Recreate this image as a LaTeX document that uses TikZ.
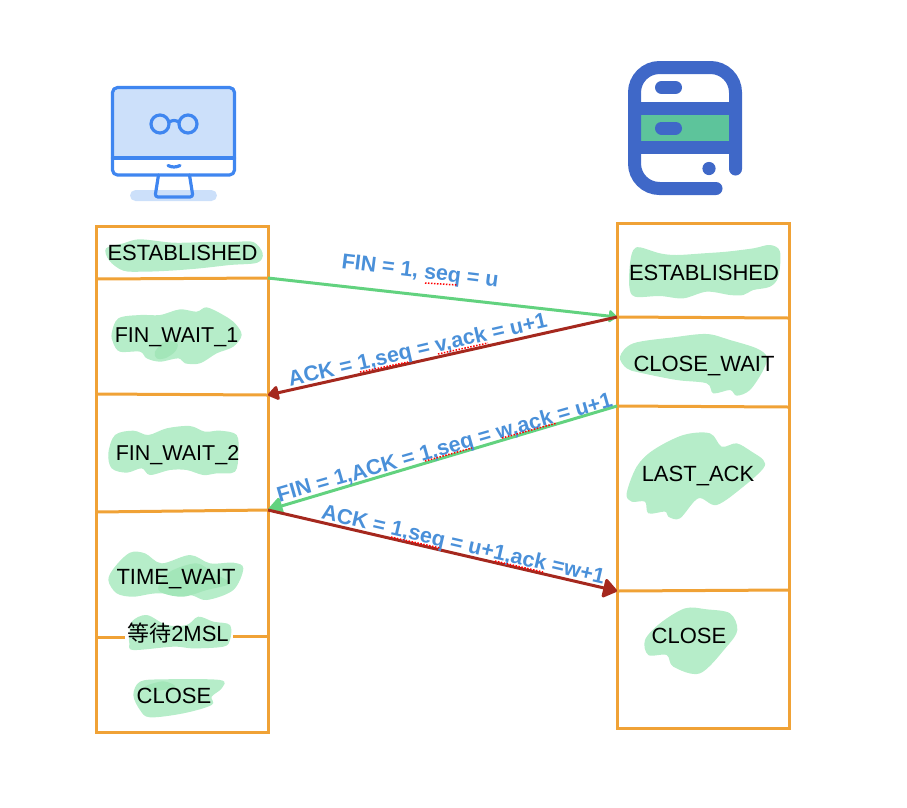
\documentclass[tikz,border=0pt]{standalone}
\usepackage{fontspec}
\setmainfont{Liberation Sans}
\newfontfamily\cjk{Noto Sans CJK SC}
\usetikzlibrary{arrows.meta}

\definecolor{boxorange}{HTML}{F0A236}
\definecolor{blobgreen}{HTML}{B6EDC9}
\definecolor{blobdark}{HTML}{A3E6B9}
\definecolor{arrowgreen}{HTML}{62D27F}
\definecolor{arrowred}{HTML}{A5281E}
\definecolor{labelblue}{HTML}{4A90D9}
\definecolor{pcblue}{HTML}{3F86F0}
\definecolor{pcfill}{HTML}{CCE0FA}
\definecolor{srvblue}{HTML}{3F68C8}
\definecolor{srvgreen}{HTML}{5DC49B}

\tikzset{
  box/.style={draw=boxorange,line width=3pt},
  state/.style={font=\fontsize{22}{26}\selectfont,text height=15.5pt,text depth=0pt,inner sep=0pt},
  finstate/.style={state,font=\fontsize{21.5}{26}\selectfont},
  msg/.style={font=\fontsize{21.5}{26}\selectfont\bfseries,text=labelblue,inner sep=0pt},
  finline/.style={draw=arrowgreen,line width=3pt},
  ackline/.style={draw=arrowred,line width=3pt},
  squiggle/.style={draw=red,line width=1.5pt,dash pattern=on 1.5pt off 1.5pt},
  pcline/.style={draw=pcblue,line width=3.2pt,line cap=round,line join=round},
  srvline/.style={draw=srvblue,line width=13pt,line cap=round}
}

% coordinates in the blob lists are relative to (#1,#2), at three times the size
\newcommand{\blob}[4][blobgreen]{\fill[#1,shift={(#2,#3)},scale=1/3] plot[smooth cycle,tension=0.55] coordinates {#4};}

\begin{document}
\begin{tikzpicture}[x=1pt,y=-1pt]

\useasboundingbox (0,0) rectangle (907,807);

% computer
\fill[pcfill,rounded corners=5.5pt] (130,190) rectangle (217,201);
\fill[pcfill] (113,88) rectangle (234,158);
\draw[pcline,rounded corners=5pt] (112.5,87.5) rectangle (234.5,175);
\draw[pcline] (112.5,158) -- (234.5,158);
\draw[pcline] (160,124) circle (9);
\draw[pcline] (188,124) circle (9);
\draw[pcline] (169,122) .. controls (173,120) and (175,120) .. (179,122);
\draw[pcline] (168,165.5) .. controls (172,167.5) and (176,167.5) .. (180,165.5);
\draw[pcline,rounded corners=3pt] (158.5,175) -- (155,197) -- (193,197) -- (189.5,175);

% server
\fill[srvgreen] (641,115) rectangle (729,141);
\draw[srvline,rounded corners=25pt] (716,188.5) -- (634.5,188.5) -- (634.5,67.5) -- (735.5,67.5) -- (735.5,169);
\draw[srvline,line cap=butt] (634.5,108.5) -- (735.5,108.5);
\draw[srvline,line cap=butt] (634.5,147.5) -- (735.5,147.5);
\draw[srvline] (661.5,87.5) -- (675.5,87.5);
\draw[srvline] (661.5,128) -- (675.5,128);
\fill[srvblue] (709,168.5) circle (6.6);

% highlighter
\blob{90}{220}{(48,85) (100,70) (150,58) (250,68) (350,66) (430,66) (490,66) (518,100) (502,128) (420,135) (330,145) (240,152) (160,155) (100,152) (58,122)}
\blob{90}{220}{(65,340) (85,295) (150,285) (210,285) (270,268) (320,275) (350,262) (400,285) (435,310) (455,345) (430,380) (380,400) (330,430) (285,430) (265,415) (210,425) (170,415) (150,395) (90,395) (70,370)}
\blob[blobdark]{90}{220}{(195,395) (225,365) (262,370) (255,395) (225,415) (200,415)}
\blob{90}{390}{(55,190) (75,135) (130,122) (175,135) (230,115) (300,108) (345,125) (390,122) (440,135) (445,190) (435,245) (380,250) (340,255) (290,240) (240,240) (180,255) (155,235) (110,248) (65,235)}
\blob{90}{540}{(55,120) (75,80) (120,38) (165,40) (215,70) (300,45) (360,70) (430,68) (460,85) (430,150) (350,180) (300,165) (200,160) (130,170) (80,160)}
\blob[blobdark]{90}{540}{(205,140) (240,95) (320,70) (370,100) (420,130) (350,150) (280,170) (220,160)}
\blob{90}{540}{(118,290) (125,245) (170,225) (230,255) (290,255) (325,230) (370,245) (420,255) (420,300) (400,320) (310,325) (250,320) (130,330) (118,310)}
\blob{90}{540}{(130,465) (150,425) (220,418) (390,420) (395,445) (365,470) (365,495) (280,520) (180,532) (150,510)}
\blob[blobdark]{90}{540}{(165,440) (220,424) (255,440) (200,452)}
\blob{610}{220}{(60,130) (70,90) (90,82) (150,100) (200,105) (280,100) (350,95) (430,85) (480,75) (510,95) (505,170) (480,200) (430,210) (400,225) (360,225) (290,215) (220,235) (150,228) (75,230) (58,200)}
\blob{610}{220}{(30,410) (70,370) (190,352) (290,342) (360,360) (440,385) (470,410) (460,450) (420,510) (380,527) (360,510) (310,520) (290,490) (200,480) (90,458) (50,445)}
\blob{610}{410}{(50,250) (80,170) (130,120) (220,75) (300,70) (335,110) (380,100) (425,125) (460,150) (460,175) (400,230) (320,285) (265,265) (210,325) (175,320) (165,305) (115,310) (105,275) (65,275)}
\blob{610}{410}{(105,690) (150,640) (225,595) (290,598) (360,610) (382,660) (350,710) (270,790) (190,770) (170,735) (115,735)}

% left column
\coordinate (L1) at (268,278);
\coordinate (L2) at (268,395);
\coordinate (L3) at (268,510);

\draw[box] (96,226) rectangle (268,732);
\draw[box] (96,279) -- (L1);
\draw[box] (96,394) -- (L2);
\draw[box] (96,512) -- (L3);
\draw[box] (96,637) -- (125,637);
\draw[box] (233,636) -- (268,636);

% right column
\coordinate (R1) at (617,317);
\coordinate (R2) at (617,406);
\coordinate (R3) at (617,591);

\draw[box] (617,223) rectangle (789,728);
\draw[box] (R1) -- (789,318);
\draw[box] (R2) -- (789,407);
\draw[box] (R3) -- (789,590);

% messages
\draw[finline,-{Triangle[round,length=9pt,width=14pt]}] (L1) -- (R1);
\draw[ackline,-{Triangle[round,length=12pt,width=16pt]}] (R1) -- (L2);
\draw[finline,-{Triangle[round,length=16pt,width=19pt]}] (R2) -- (L3);
\draw[ackline,-{Triangle[round,length=15pt,width=21pt]}] (L3) -- (R3);

\node[msg,rotate=-7] (m1) at (420,272.5) {FIN = 1, seq = u};
\node[msg,rotate=13] (m2) at (418,351) {ACK = 1,seq = v,ack = u+1};
\node[msg,rotate=16] (m3) at (445,449) {FIN = 1,ACK = 1,seq = w,ack = u+1};
\node[msg,rotate=-13] (m4) at (463,546) {ACK = 1,seq = u+1,ack =w+1};

\draw[squiggle] (425,283) -- (457,285);
\draw[squiggle] (360,372) -- (408,362);
\draw[squiggle] (438,354) -- (488,343);
\draw[squiggle] (425,461) -- (472,448);
\draw[squiggle] (502,438) -- (557,423);
\draw[squiggle] (391,537) -- (440,548);
\draw[squiggle] (495,561) -- (543,572);

% states
\node[state] (est1) at (182.5,253) {ESTABLISHED};
\node[finstate] (fin1) at (176.5,335) {FIN\_WAIT\_1};
\node[finstate] (fin2) at (177.5,453) {FIN\_WAIT\_2};
\node[state] (tw) at (176,577) {TIME\_WAIT};
\node[state] (msl) at (178,634) {{\cjk 等待}2MSL};
\node[state] (cl1) at (174,696) {CLOSE};

\node[state] (est2) at (704,273) {ESTABLISHED};
\node[state] (cw) at (704,364) {CLOSE\_WAIT};
\node[state] (la) at (698,474) {LAST\_ACK};
\node[state] (cl2) at (689,636) {CLOSE};

\end{tikzpicture}
\end{document}
